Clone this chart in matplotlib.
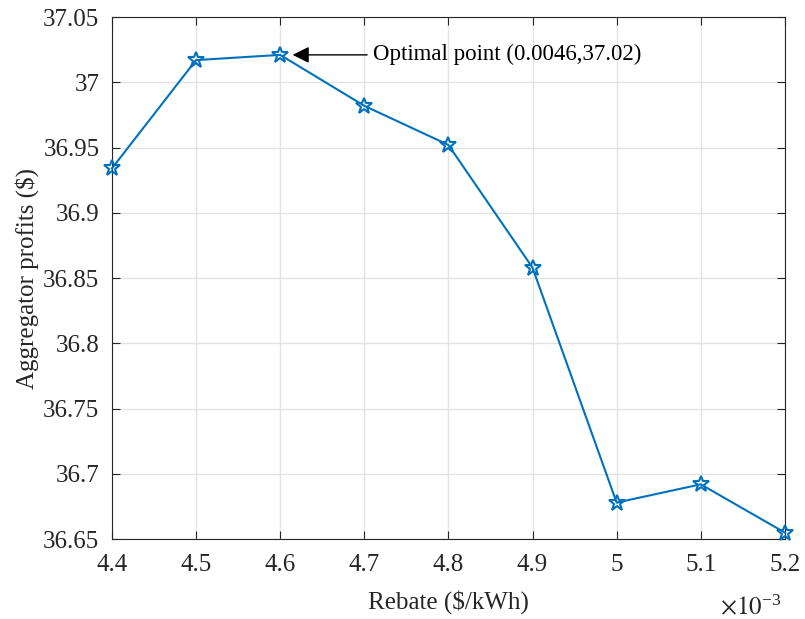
import matplotlib
matplotlib.use('Agg')
import matplotlib.pyplot as plt
from matplotlib.ticker import FuncFormatter
import numpy as np

plt.rcParams['font.family'] = ['Liberation Serif', 'DejaVu Serif']
plt.rcParams['mathtext.fontset'] = 'stix'

# Rebate sweep and resulting aggregator profit
rebate = [0.0044, 0.0045, 0.0046, 0.0047, 0.0048, 0.0049, 0.0050, 0.0051, 0.0052]
profit = [36.934, 37.017, 37.021, 36.982, 36.952, 36.858, 36.678, 36.692, 36.655]
opt_x, opt_y = 0.0046, 37.021

fig = plt.figure(figsize=(8.05, 6.19), dpi=100)
ax = fig.add_axes([0.139, 0.129, 0.836, 0.8435])

ax.plot(rebate, profit, '-', color='#0072BD', lw=1.5,
        marker='*', ms=12, mfc='none', mec='#0072BD', mew=1.5, clip_on=False, zorder=3)

ax.annotate('Optimal point (0.0046,37.02)', xy=(opt_x, opt_y), xytext=(0.00471, opt_y),
            fontsize=16.5, va='center', ha='left',
            arrowprops=dict(arrowstyle='-|>', color='k', lw=1, shrinkB=9,
                            mutation_scale=25))

ax.set_xlim(0.0044, 0.0052)
ax.set_ylim(36.65, 37.05)
ax.set_xticks(np.arange(0.0044, 0.00521, 0.0001))
ax.set_yticks(np.arange(36.65, 37.051, 0.05))
ax.xaxis.set_major_formatter(FuncFormatter(lambda v, p: '%g' % round(v * 1e3, 4)))
ax.yaxis.set_major_formatter(FuncFormatter(lambda v, p: '%g' % round(v, 4)))
ax.tick_params(direction='in', labelsize=18, length=6, width=0.8, top=True, right=True,
               labeltop=False, labelright=False, colors='#262626')
ax.tick_params(axis='x', pad=11)
ax.tick_params(axis='y', pad=9)
ax.grid(True, color='#e3e3e3', lw=1)
ax.set_axisbelow(True)
for s in ax.spines.values():
    s.set_color('#262626')
    s.set_linewidth(0.8)

ax.set_xlabel('Rebate ($/kWh)', fontsize=18, color='#262626', labelpad=10)
ax.set_ylabel('Aggregator profits ($)', fontsize=18, color='#262626', labelpad=3)
ax.text(0.995, -0.108, r'$\times10^{\mathregular{-3}}$', transform=ax.transAxes, fontsize=18,
        ha='right', va='top', color='#262626')

fig.savefig('out.png', dpi=100)
